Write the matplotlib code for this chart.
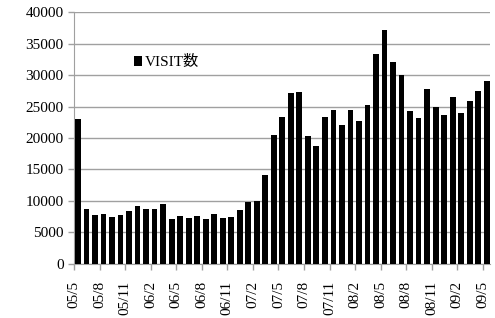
import numpy as np
import matplotlib.pyplot as plt

# monthly VISIT counts, 05/5 .. 09/5
visits = [23000, 8800, 7700, 7900, 7500, 7700, 8350, 9150, 8800, 8800,
          9550, 7150, 7600, 7250, 7600, 7150, 8000, 7250, 7500, 8550,
          9800, 10000, 14150, 20400, 23300, 27100, 27300, 20300, 18800, 23300,
          24400, 22000, 24400, 22700, 25200, 33300, 37200, 32000, 30000, 24300,
          23200, 27800, 25000, 23600, 26500, 23900, 25900, 27500, 29000]
tick_labels = ["05/5", "05/8", "05/11", "06/2", "06/5", "06/8", "06/11",
               "07/2", "07/5", "07/8", "07/11", "08/2", "08/5", "08/8",
               "08/11", "09/2", "09/5"]
series_name = "VISIT数"

plt.rcParams['font.family'] = ['Liberation Serif', 'Noto Sans CJK JP']

fig = plt.figure(figsize=(4.95, 3.18), dpi=100)
ax = fig.add_axes([0.1495, 0.17, 0.8405, 0.792])

x = np.arange(len(visits))
ax.bar(x + 0.12, visits, width=0.68, align='edge', color='black',
       label=series_name, zorder=3)

ax.set_xlim(0, len(visits) - 0.15)
ax.set_ylim(0, 40000)
ax.set_yticks(np.arange(0, 40001, 5000))
ax.set_xticks(x[::3])
ax.set_xticklabels(tick_labels, rotation=90)
ax.yaxis.grid(True, color='#a0a0a0', linewidth=1, zorder=0)

for spine in ['top', 'right']:
    ax.spines[spine].set_visible(False)
for spine in ['left', 'bottom']:
    ax.spines[spine].set_color('#a0a0a0')
ax.tick_params(axis='both', colors='#a0a0a0', labelcolor='black',
               labelsize=11, length=4, width=1)
ax.tick_params(axis='x', pad=8)

ax.legend(loc='center left', bbox_to_anchor=(0.125, 0.80), frameon=False,
          fontsize=11, handlelength=0.55, handleheight=0.55,
          handletextpad=0.2, borderpad=0)

fig.savefig('out.png', dpi=100)
